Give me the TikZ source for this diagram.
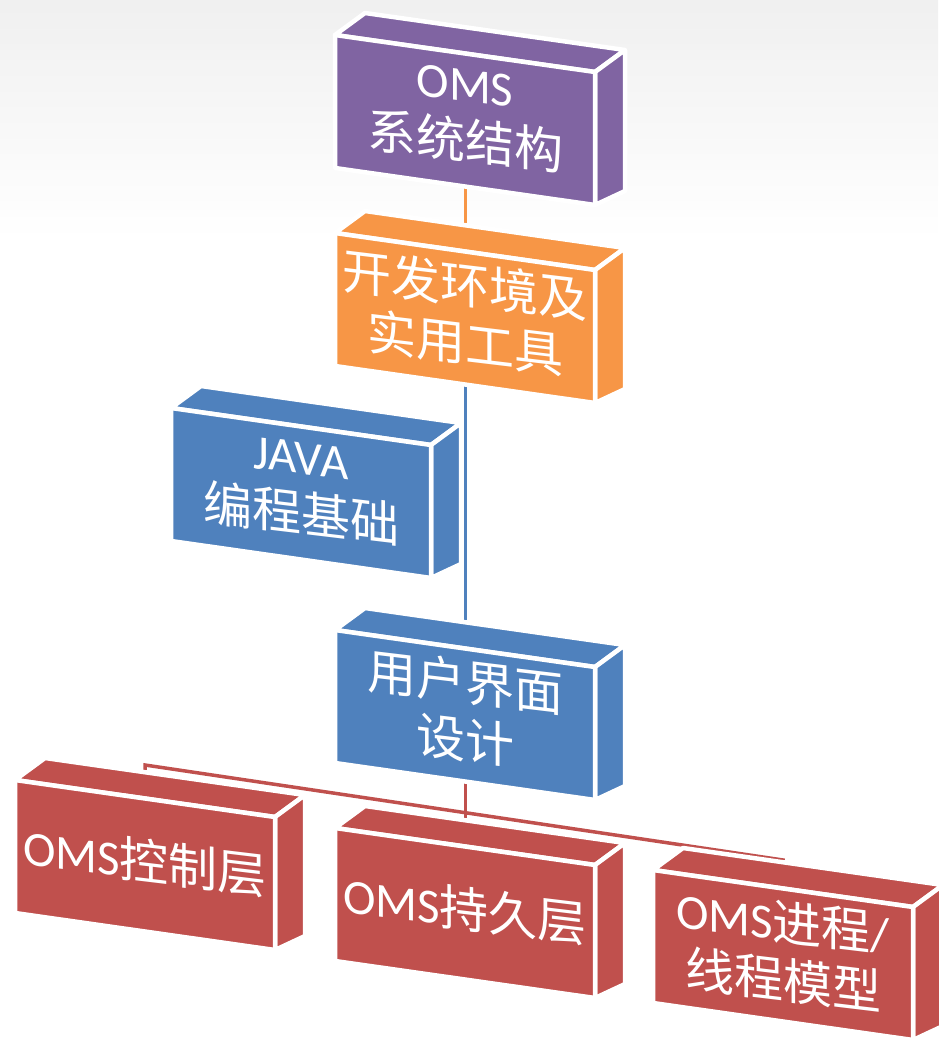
\documentclass[tikz,border=0pt]{standalone}
\usepackage{fontspec}
\setmainfont{Carlito}
\newfontfamily\cjk{Noto Sans CJK SC}
\usetikzlibrary{calc,backgrounds}
\definecolor{cPurple}{HTML}{8064A2}
\definecolor{cOrange}{HTML}{F79646}
\definecolor{cBlue}{HTML}{4F81BD}
\definecolor{cRed}{HTML}{C0504D}
\newcommand\zh[1]{{\cjk #1}}
\tikzset{
  face/.style={draw=white, line width=4.5pt, line join=round},
  boxtext/.style={text=white, font=\fontsize{49}{58}\selectfont, align=center, inner sep=0pt, yslant=-0.12},
  conn/.style={line width=3pt}
}
\newcommand\obox[5]{%
\begin{scope}[shift={(#2,#3)}]
\filldraw[face,fill=#4] (0,0) -- (260,37) -- (290,15) -- (30,-22) -- cycle;
\filldraw[face,fill=#4] (260,37) -- (290,15) -- (290,156) -- (260,170) -- cycle;
\filldraw[face,fill=#4] (0,0) -- (260,37) -- (260,170) -- (0,133) -- cycle;
\coordinate (#1-top) at (130,10);
\coordinate (#1-bot) at (130,150);
\node[boxtext] (#1) at (130,81) {#5};
\end{scope}}
\begin{document}
\begin{tikzpicture}[x=1pt,y=-1pt]
\useasboundingbox (0,0) rectangle (938,1047);
\obox{b1}{335}{35}{cPurple}{OMS\\\zh{系统结构}}
\obox{b2}{335}{233}{cOrange}{\zh{开发环境及}\\\zh{实用工具}}
\obox{b3}{171}{408}{cBlue}{JAVA\\\zh{编程基础}}
\obox{b4}{335}{630}{cBlue}{\zh{用户界面}\\\zh{设计}}
\obox{b5}{15}{780}{cRed}{OMS\zh{控制层}}
\obox{b6}{335}{828}{cRed}{OMS\zh{持久层}}
\obox{b7}{653}{870}{cRed}{OMS\zh{进程}/\\\zh{线程模型}}
\begin{scope}[on background layer]
\fill[white] (0,0) rectangle (938,1047);
\shade[top color=black!6, bottom color=white] (0,0) rectangle (938,240);
\draw[conn, cOrange] (b1-bot) -- (b2-top);
\draw[conn, cBlue] (b2-bot) -- (b4-top);
\coordinate (barL) at ($(b5-top)+(0,-25)$);
\coordinate (barR) at ($(b7-top)+(0,-20)$);
\draw[conn, cRed, line width=3.5pt] (b5-top) -- (barL) -- (barR) -- (b7-top);
\draw[conn, cRed] (b4-bot) -- (b6-top);
\end{scope}
\end{tikzpicture}
\end{document}
